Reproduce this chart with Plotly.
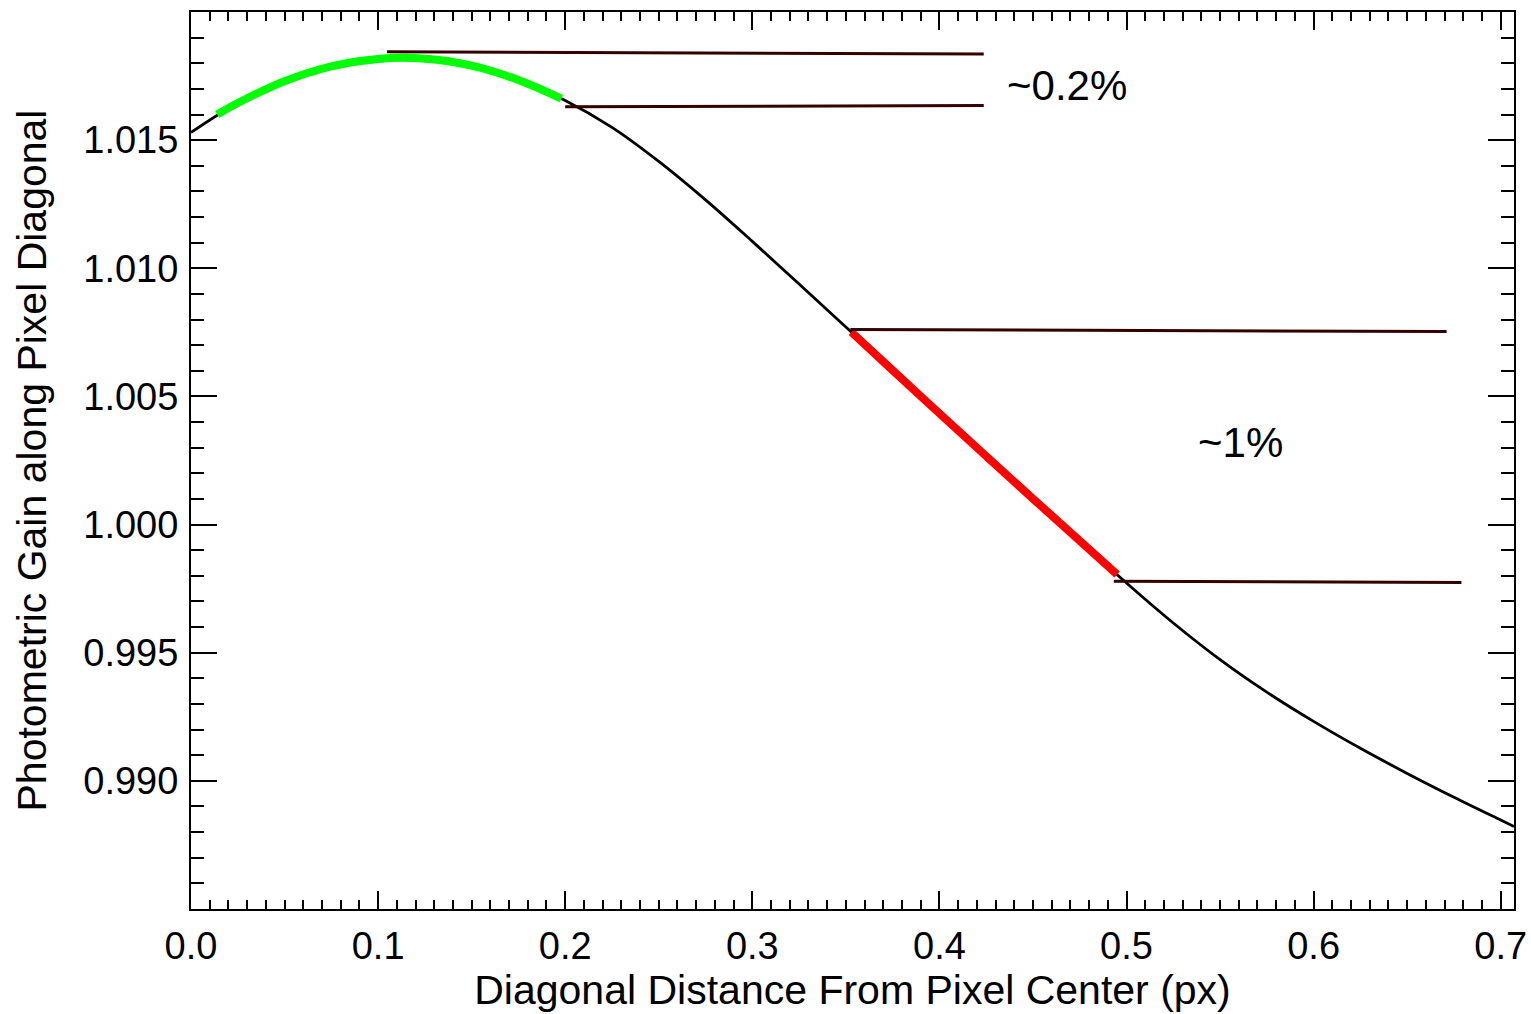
import plotly.graph_objects as go

# Photometric gain profile along the pixel diagonal
dist = [0.000, 0.025, 0.050, 0.075, 0.100, 0.125, 0.150, 0.175, 0.200, 0.225,
        0.250, 0.275, 0.300, 0.325, 0.350, 0.375, 0.400, 0.425, 0.450, 0.475,
        0.500, 0.525, 0.550, 0.575, 0.600, 0.625, 0.650, 0.675, 0.700, 0.7071]
gain = [1.01530, 1.01645, 1.01730, 1.01788, 1.01817, 1.01818, 1.01791, 1.01735,
        1.01655, 1.01550, 1.01417, 1.01267, 1.01105, 1.00939, 1.00771, 1.00602,
        1.00434, 1.00267, 1.00101, 0.99937, 0.99772, 0.99616, 0.99473, 0.99346,
        0.99232, 0.99127, 0.99029, 0.98936, 0.98847, 0.98822]

# Flat region near the peak (green) and steep region (red)
flat_x = [0.014, 0.025, 0.050, 0.075, 0.100, 0.125, 0.150, 0.175, 0.198]
flat_y = [1.01600, 1.01645, 1.01730, 1.01788, 1.01817, 1.01818, 1.01791, 1.01735,
          1.01662]
steep_x = [0.353, 0.375, 0.400, 0.425, 0.450, 0.475, 0.495]
steep_y = [1.00751, 1.00602, 1.00434, 1.00267, 1.00101, 0.99937, 0.99805]

# Bracketing reference lines (start x, end x, start y, end y)
ref_x0 = [0.1048, 0.2000, 0.3524, 0.4932]
ref_x1 = [0.4237, 0.4237, 0.6711, 0.6790]
ref_y0 = [1.01845, 1.01630, 1.00761, 0.99779]
ref_y1 = [1.01836, 1.01635, 1.00753, 0.99774]

# Spread labels
note_text = ["~0.2%", "~1%"]
note_x = [0.468, 0.561]
note_y = [1.01715, 1.00321]

x_ticks = [0.0, 0.1, 0.2, 0.3, 0.4, 0.5, 0.6, 0.7]
y_ticks = [0.990, 0.995, 1.000, 1.005, 1.010, 1.015]

FONT = "Liberation Sans, Arial, Helvetica, sans-serif"

fig = go.Figure()
fig.add_trace(go.Scatter(x=dist, y=gain, mode="lines",
                         line=dict(color="black", width=2.8, shape="spline"),
                         showlegend=False, hoverinfo="skip"))
fig.add_trace(go.Scatter(x=flat_x, y=flat_y, mode="lines",
                         line=dict(color="#00ff00", width=8, shape="spline"),
                         showlegend=False, hoverinfo="skip"))
fig.add_trace(go.Scatter(x=steep_x, y=steep_y, mode="lines",
                         line=dict(color="#ff0000", width=8, shape="spline"),
                         showlegend=False, hoverinfo="skip"))
for x0, x1, y0, y1 in zip(ref_x0, ref_x1, ref_y0, ref_y1):
    fig.add_trace(go.Scatter(x=[x0, x1], y=[y0, y1], mode="lines",
                             line=dict(color="#330000", width=3),
                             showlegend=False, hoverinfo="skip"))

for t, x, y in zip(note_text, note_x, note_y):
    fig.add_annotation(x=x, y=y, text=t, showarrow=False,
                       font=dict(family=FONT, size=42, color="black"),
                       xanchor="center", yanchor="middle")

fig.update_xaxes(
    range=[0, 0.7071], tickmode="array", tickvals=x_ticks, tickformat=".1f",
    ticks="inside", ticklen=18, tickwidth=1.5, tickcolor="black",
    showline=True, linewidth=2, linecolor="black", mirror="allticks",
    showgrid=False, zeroline=False, ticklabelstandoff=2, automargin=False,
    minor=dict(tickmode="linear", tick0=0, dtick=0.01, ticks="inside",
               ticklen=9, tickwidth=1.5, tickcolor="black", showgrid=False),
    tickfont=dict(family=FONT, size=38, color="black"),
    title=dict(text="Diagonal Distance From Pixel Center (px)",
               font=dict(family=FONT, size=41, color="black"), standoff=6),
)
fig.update_yaxes(
    range=[0.985, 1.020], tickmode="array", tickvals=y_ticks, tickformat=".3f",
    ticks="inside", ticklen=26, tickwidth=1.5, tickcolor="black",
    showline=True, linewidth=2, linecolor="black", mirror="allticks",
    showgrid=False, zeroline=False, ticklabelstandoff=3, automargin=False,
    minor=dict(tickmode="linear", tick0=0.985, dtick=0.001, ticks="inside",
               ticklen=13, tickwidth=1.5, tickcolor="black", showgrid=False),
    tickfont=dict(family=FONT, size=38, color="black"),
    title=dict(text="Photometric Gain along Pixel Diagonal",
               font=dict(family=FONT, size=41, color="black"), standoff=24),
)
fig.update_layout(
    width=1531, height=1014,
    margin=dict(l=191, r=17, t=12, b=105),
    paper_bgcolor="white", plot_bgcolor="white",
    font=dict(family=FONT, color="black"),
)
fig.write_html("out.html")
